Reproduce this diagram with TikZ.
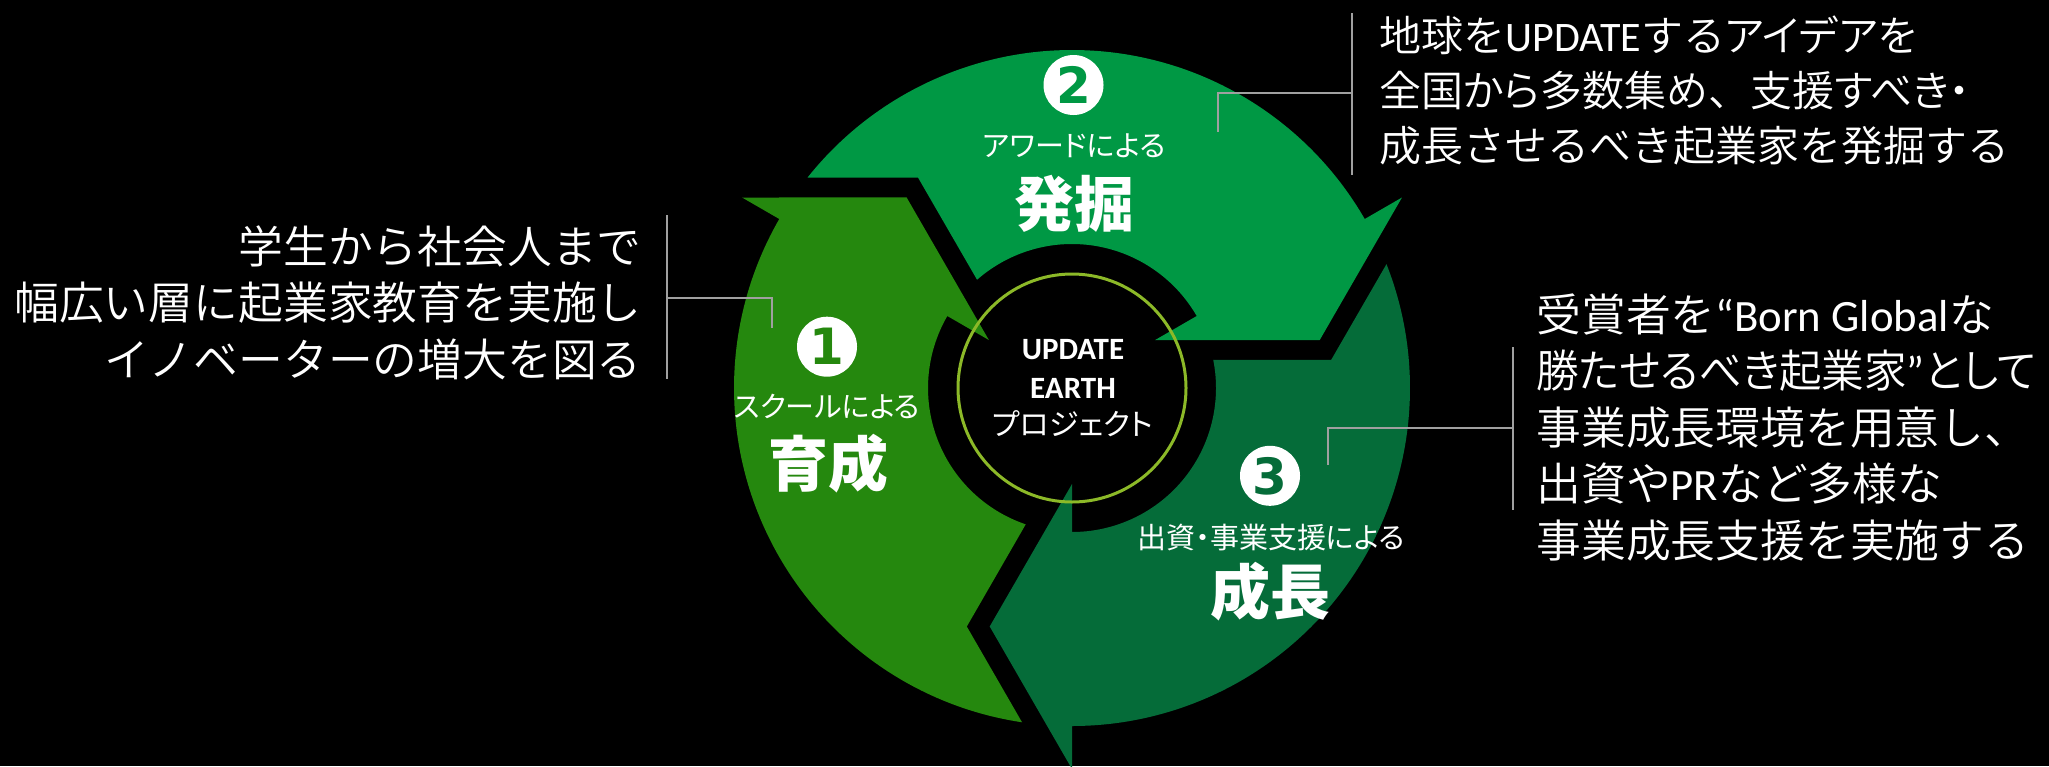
\documentclass[tikz,border=0pt]{standalone}
\usepackage{fontspec}
\usepackage{graphicx}
\usetikzlibrary{calc}
\IfFontExistsTF{Noto Sans CJK JP DemiLight}
  {\newfontfamily\jpl{Noto Sans CJK JP DemiLight}\newfontfamily\jplp{Noto Sans CJK JP DemiLight}[RawFeature=+palt]}
  {\IfFontExistsTF{Noto Sans CJK JP Light}
    {\newfontfamily\jpl{Noto Sans CJK JP Light}\newfontfamily\jplp{Noto Sans CJK JP Light}[RawFeature=+palt]}
    {\newfontfamily\jpl{Noto Sans CJK JP}\newfontfamily\jplp{Noto Sans CJK JP}[RawFeature=+palt]}}
\newfontfamily\jp{Noto Sans CJK JP}
\newfontfamily\jpp{Noto Sans CJK JP}[RawFeature=+palt]
\newfontfamily\lat{Carlito}
\newfontfamily\dig{DejaVu Sans}
\definecolor{gA}{RGB}{37,136,14}
\definecolor{gB}{RGB}{0,152,68}
\definecolor{gC}{RGB}{5,108,57}
\definecolor{ringc}{RGB}{140,185,40}
\definecolor{linec}{RGB}{160,160,160}
% #1 head angle, #2 colour
\newcommand\cyclearrow[2]{%
  \pgfmathsetmacro\ta{#1+120}%
  \fill[#2] ($(C)+(\ta-8.5:338)$)
    arc[start angle=\ta-8.5, end angle=#1, radius=338]
    -- ($(C)+(#1:381)$)
    -- ($(C)+(#1-19.04:252.3)$)
    -- ($(C)+(#1:96)$)
    -- ($(C)+(#1:144)$)
    arc[start angle=#1, end angle=\ta-18.75, radius=144]
    -- ($(C)+(\ta-23.8:260.7)$)
    -- cycle;}
\tikzset{
  side/.style={inner sep=0pt, text=white, font=\jpl\fontsize{22.4}{28.25}\selectfont},
  conn/.style={draw=linec, line width=1pt},
  numc/.style={circle, fill=white, minimum size=30pt, inner sep=0pt,
    font=\dig\bfseries\fontsize{25}{25}\selectfont},
  small/.style={inner sep=0pt, text=white, font=\jpp\fontsize{14.5}{14.5}\selectfont},
  big/.style={inner sep=0pt, text=white, font=\jpp\bfseries\fontsize{30}{30}\selectfont},
  ctr/.style={inner sep=0pt, text=white},
}
\begin{document}
\begin{tikzpicture}[x=0.5pt, y=0.5pt]
\fill[black] (0,0) rectangle (2049,-766);
\path[use as bounding box] (0,0) rectangle (2049,-766);
\coordinate (C) at (1072,-388);

\cyclearrow{150}{gA}
\cyclearrow{30}{gB}
\cyclearrow{-90}{gC}

\draw[ringc, line width=1.5pt] (C) circle[radius=114];
\node[ctr, font=\lat\bfseries\fontsize{15.5}{15.5}\selectfont] (ct1) at (1073,-350) {UPDATE};
\node[ctr, font=\lat\bfseries\fontsize{15.5}{15.5}\selectfont] (ct2) at (1073,-388) {EARTH};
\node[ctr, font=\jpp\fontsize{15}{15}\selectfont] (ct3) at (1073,-424) {プロジェクト};

% arrow labels
\node[numc, text=gA] (n1) at (827,-346.7) {1};
\node[small] (s1) at (827,-406) {スクールによる};
\node[big] (b1) at (828,-463.5) {育成};

\node[numc, text=gB] (n2) at (1073.5,-85) {2};
\node[small] (s2) at (1074,-146) {アワードによる};
\node[big] (b2) at (1074,-203.5) {発掘};

\node[numc, text=gC] (n3) at (1270,-475.8) {3};
\node[small] (s3) at (1271,-537) {出資・事業支援による};
\node[big] (b3) at (1270,-591.5) {成長};

% side texts
\node[side, anchor=north east, align=right] (tL) at (642,-225)
  {学生から社会人まで\\幅広い層に起業家教育を実施し\\イノベーターの増大を図る};
\node[side, anchor=north west, align=left, font=\jpl\fontsize{21}{27.5}\selectfont] (tR2) at (1379,-15)
  {地球を{\lat UPDATE}する{\jplp アイデア}を\\全国{\jplp から}多数集め、支援{\jplp すべき・}\\成長させるべき起業家を発掘する};
\node[side, anchor=north west, align=left] (tR3) at (1536,-293)
  {受賞者を{\lat “Born Global}な\\\scalebox{0.95}[1]{{\jplp 勝たせるべき起業家}{\lat ”}{\jplp として}}\\事業成長環境を用意し、\\出資や{\lat PR}など多様な\\事業成長支援を実施する};

% connectors
\coordinate (Lt) at (666.7,-215);
\coordinate (Lb) at (666.7,-379);
\coordinate (Lj) at (666.7,-298.3);
\coordinate (Le) at (772.3,-327.7);
\draw[conn] (Lt) -- (Lb);
\draw[conn] (Lj) -| (Le);

\coordinate (Tt) at (1352,-13);
\coordinate (Tb) at (1352,-175);
\coordinate (Tj) at (1352,-93);
\coordinate (Te) at (1218.3,-131.7);
\draw[conn] (Tt) -- (Tb);
\draw[conn] (Tj) -| (Te);

\coordinate (Bt) at (1513,-347);
\coordinate (Bb) at (1513,-510);
\coordinate (Bj) at (1513,-428.3);
\coordinate (Be) at (1328.3,-465);
\draw[conn] (Bt) -- (Bb);
\draw[conn] (Bj) -| (Be);
\end{tikzpicture}
\end{document}
